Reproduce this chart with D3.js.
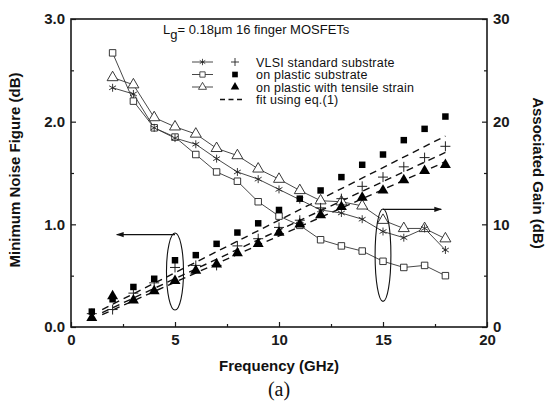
<!DOCTYPE html>
<html>
<head>
<meta charset="utf-8">
<script src="https://cdn.jsdelivr.net/npm/d3@7"></script>
<style>
body { margin: 0; background: #fff; }
text { font-family: "Liberation Sans", Arial, sans-serif; fill: #111; }
</style>
</head>
<body>
<div id="chart"></div>
<script>
//Datos
const freqNF = [1,2,3,4,5,6,7,8,9,10,11,12,13,14,15,16,17,18];
const nfVlsi    = [0.13,0.17,0.33,0.43,0.58,0.60,0.60,0.79,0.86,0.97,1.04,1.16,1.25,1.37,1.46,1.56,1.65,1.76];
const nfPlastic = [0.15,0.27,0.39,0.47,0.65,0.70,0.81,0.92,1.01,1.14,1.25,1.33,1.46,1.58,1.68,1.82,1.93,2.05];
const nfStrain  = [0.09,0.30,0.26,0.35,0.45,0.55,0.61,0.72,0.81,0.92,1.00,1.09,1.17,1.26,1.33,1.43,1.52,1.58];

const freqGain = [2,3,4,5,6,7,8,9,10,11,12,13,14,15,16,17,18];
const gainVlsi    = [23.3,22.7,19.4,18.4,17.8,16.4,15.1,14.4,13.4,12.4,11.4,11.1,10.5,9.3,8.7,9.6,7.5];
const gainPlastic = [26.7,22.0,19.4,18.5,16.8,15.1,14.2,12.2,10.8,9.9,8.5,7.9,7.4,6.4,5.8,6.0,5.0];
const gainStrain  = [24.3,23.6,20.4,19.5,18.8,17.4,16.7,15.4,14.4,13.3,12.3,12.2,11.8,10.4,9.6,9.6,8.6];

//Ajuste eq.(1): extremos en frecuencia y NF
const fitFreq = [1.5, 18];
const fitVlsi = [0.14, 1.70];
const fitPlastic = [0.17, 1.86];
const fitStrain = [0.12, 1.61];

const xTicks = [0,5,10,15,20];
const yLeftTicks = [0,1,2,3];
const yRightTicks = [0,10,20,30];

const legendLabels = ['VLSI standard substrate', 'on plastic substrate', 'on plastic with tensile strain', 'fit using eq.(1)'];

const width = 552, height = 404;
const margin = {top: 19, right: 65, bottom: 77, left: 71};

let svg = d3.select('#chart').append('svg')
    .attr('width', width)
    .attr('height', height);

let x = d3.scaleLinear().domain([0, 20]).range([margin.left, width - margin.right]);
let yL = d3.scaleLinear().domain([0, 3]).range([height - margin.bottom, margin.top]);
let yR = d3.scaleLinear().domain([0, 30]).range([height - margin.bottom, margin.top]);

const INK = '#1a1a1a';

//Ejes
svg.append('g')
    .attr('transform', 'translate(0,' + yL(0) + ')')
    .call(d3.axisBottom(x).tickValues(xTicks).tickSize(-5).tickPadding(7).tickFormat(d3.format('d')));
svg.append('g')
    .attr('transform', 'translate(0,' + yL(0) + ')')
    .call(d3.axisBottom(x).tickValues([2.5,7.5,12.5,17.5]).tickSize(-3).tickFormat(''));

svg.append('g')
    .attr('transform', 'translate(' + x(0) + ',0)')
    .call(d3.axisLeft(yL).tickValues(yLeftTicks).tickSize(-5).tickPadding(6).tickFormat(d3.format('.1f')));
svg.append('g')
    .attr('transform', 'translate(' + x(0) + ',0)')
    .call(d3.axisLeft(yL).tickValues([0.5,1.5,2.5]).tickSize(-3).tickFormat(''));

svg.append('g')
    .attr('transform', 'translate(' + x(20) + ',0)')
    .call(d3.axisRight(yR).tickValues(yRightTicks).tickSize(-5).tickPadding(6).tickFormat(d3.format('d')));
svg.append('g')
    .attr('transform', 'translate(' + x(20) + ',0)')
    .call(d3.axisRight(yR).tickValues([5,15,25]).tickSize(-3).tickFormat(''));

svg.selectAll('.domain').remove();
svg.selectAll('.tick line').attr('stroke', INK).attr('stroke-width', 1.2);
svg.selectAll('.tick text')
    .style('font-size', '15px')
    .style('font-weight', '700')
    .style('fill', INK);

//Marco
svg.append('rect')
    .attr('x', x(0)).attr('y', yL(3))
    .attr('width', x(20) - x(0)).attr('height', yL(0) - yL(3))
    .attr('fill', 'none').attr('stroke', INK).attr('stroke-width', 1.6);

//Títulos de ejes
svg.append('text')
    .attr('transform', 'translate(20,' + (yL(1.5) - 3) + ') rotate(-90)')
    .attr('text-anchor', 'middle')
    .style('font-size', '15px').style('font-weight', '700')
    .text('Minimum Noise Figure (dB)');

svg.append('text')
    .attr('transform', 'translate(533,' + (yL(1.5)) + ') rotate(90)')
    .attr('text-anchor', 'middle')
    .style('font-size', '15px').style('font-weight', '700')
    .text('Associated Gain (dB)');

svg.append('text')
    .attr('x', x(10)).attr('y', 371)
    .attr('text-anchor', 'middle')
    .style('font-size', '15px').style('font-weight', '700')
    .text('Frequency (GHz)');

svg.append('text')
    .attr('x', x(10)).attr('y', 396)
    .attr('text-anchor', 'middle')
    .style('font-family', '"Liberation Serif", "Times New Roman", serif')
    .style('font-size', '20px')
    .text('(a)');

//Símbolos
const sym = {
    asterisk: d3.symbol().type(d3.symbolAsterisk).size(44),
    square: d3.symbol().type(d3.symbolSquare).size(42),
    triangle: d3.symbol().type(d3.symbolTriangle).size(52)
};

function drawMarkers(xs, ys, scale, shape, filled) {
    svg.append('g')
        .selectAll('path')
        .data(xs.map(function(f, i) { return {f: f, v: ys[i]}; }))
        .enter()
        .append('path')
        .attr('transform', function(d) { return 'translate(' + x(d.f) + ',' + scale(d.v) + ')'; })
        .attr('d', sym[shape])
        .attr('fill', filled ? '#000' : (shape == 'asterisk' ? 'none' : '#fff'))
        .attr('stroke', filled ? 'none' : '#222')
        .attr('stroke-width', 0.9);
}

function drawPlus(xs, ys) {
    svg.append('g')
        .selectAll('path')
        .data(xs.map(function(f, i) { return {f: f, v: ys[i]}; }))
        .enter()
        .append('path')
        .attr('d', function(d) {
            let cx = x(d.f), cy = yL(d.v);
            return 'M' + (cx - 5) + ',' + cy + 'H' + (cx + 5) + 'M' + cx + ',' + (cy - 5) + 'V' + (cy + 5);
        })
        .attr('stroke', '#222').attr('stroke-width', 1);
}

let line = d3.line();

function drawGainLine(ys) {
    svg.append('path')
        .attr('d', line(freqGain.map(function(f, i) { return [x(f), yR(ys[i])]; })))
        .attr('fill', 'none').attr('stroke', '#333').attr('stroke-width', 0.9);
}

function drawFit(vals) {
    svg.append('path')
        .attr('d', line(fitFreq.map(function(f, i) { return [x(f), yL(vals[i])]; })))
        .attr('fill', 'none').attr('stroke', '#111').attr('stroke-width', 1.4)
        .attr('stroke-dasharray', '7,5');
}

//Ajustes
drawFit(fitPlastic);
drawFit(fitVlsi);
drawFit(fitStrain);

//Ganancia (abiertos)
drawGainLine(gainPlastic);
drawGainLine(gainVlsi);
drawGainLine(gainStrain);
drawMarkers(freqGain, gainPlastic, yR, 'square', false);
drawMarkers(freqGain, gainStrain, yR, 'triangle', false);
drawMarkers(freqGain, gainVlsi, yR, 'asterisk', false);

//NF (rellenos)
drawPlus(freqNF, nfVlsi);
drawMarkers(freqNF, nfPlastic, yL, 'square', true);
drawMarkers(freqNF, nfStrain, yL, 'triangle', true);

//Elipses y flechas
svg.append('defs').append('marker')
    .attr('id', 'arrow')
    .attr('viewBox', '0 0 10 10')
    .attr('refX', 9).attr('refY', 5)
    .attr('markerWidth', 7).attr('markerHeight', 7)
    .attr('orient', 'auto-start-reverse')
    .append('path').attr('d', 'M0,1.5L10,5L0,8.5Z').attr('fill', '#111');

svg.append('ellipse')
    .attr('cx', x(5)).attr('cy', yL(0.54))
    .attr('rx', x(0.41) - x(0)).attr('ry', yL(0) - yL(0.375))
    .attr('fill', 'none').attr('stroke', '#111').attr('stroke-width', 1.1);
svg.append('line')
    .attr('x1', x(5)).attr('y1', yL(0.9))
    .attr('x2', x(2.2)).attr('y2', yL(0.9))
    .attr('stroke', '#111').attr('stroke-width', 1.1)
    .attr('marker-end', 'url(#arrow)');

svg.append('ellipse')
    .attr('cx', x(15)).attr('cy', yL(0.70))
    .attr('rx', x(0.38) - x(0)).attr('ry', yL(0) - yL(0.45))
    .attr('fill', 'none').attr('stroke', '#111').attr('stroke-width', 1.1);
svg.append('line')
    .attr('x1', x(15)).attr('y1', yL(1.146))
    .attr('x2', x(17.8)).attr('y2', yL(1.146))
    .attr('stroke', '#111').attr('stroke-width', 1.1)
    .attr('marker-end', 'url(#arrow)');

//Anotación
let note = svg.append('text')
    .attr('x', 163).attr('y', 34)
    .style('font-size', '13px');
note.append('tspan').text('L');
note.append('tspan').attr('dy', 5).text('g');
note.append('tspan').attr('dy', -5).text('= 0.18\u03bcm 16 finger MOSFETs');

//Leyenda
let legend = svg.append('g');
const legRowY = [62, 74.5, 87, 99.5];
const legShapes = ['asterisk', 'square', 'triangle'];
const legFilled = ['plus', 'square', 'triangle'];

legRowY.forEach(function(ry, i) {
    if (i < 3) {
        legend.append('line')
            .attr('x1', 192).attr('x2', 213).attr('y1', ry).attr('y2', ry)
            .attr('stroke', '#333').attr('stroke-width', 0.9);
        legend.append('path')
            .attr('transform', 'translate(202.5,' + ry + ')')
            .attr('d', d3.symbol().type(legShapes[i] == 'asterisk' ? d3.symbolAsterisk : legShapes[i] == 'square' ? d3.symbolSquare : d3.symbolTriangle).size(28))
            .attr('fill', legShapes[i] == 'asterisk' ? 'none' : '#fff')
            .attr('stroke', '#222').attr('stroke-width', 0.8);
        if (legFilled[i] == 'plus') {
            legend.append('path')
                .attr('d', 'M' + 231 + ',' + ry + 'H' + 239 + 'M' + 235 + ',' + (ry - 4) + 'V' + (ry + 4))
                .attr('stroke', '#222').attr('stroke-width', 0.9);
        } else {
            legend.append('path')
                .attr('transform', 'translate(235,' + ry + ')')
                .attr('d', d3.symbol().type(legFilled[i] == 'square' ? d3.symbolSquare : d3.symbolTriangle).size(32))
                .attr('fill', '#000');
        }
    } else {
        legend.append('line')
            .attr('x1', 220).attr('x2', 242).attr('y1', ry).attr('y2', ry)
            .attr('stroke', '#111').attr('stroke-width', 1.3)
            .attr('stroke-dasharray', '5,3.5');
    }
    legend.append('text')
        .attr('x', 256).attr('y', ry + 4.5)
        .style('font-size', '12.5px')
        .style('letter-spacing', '0.2px')
        .text(legendLabels[i]);
});
</script>
</body>
</html>
